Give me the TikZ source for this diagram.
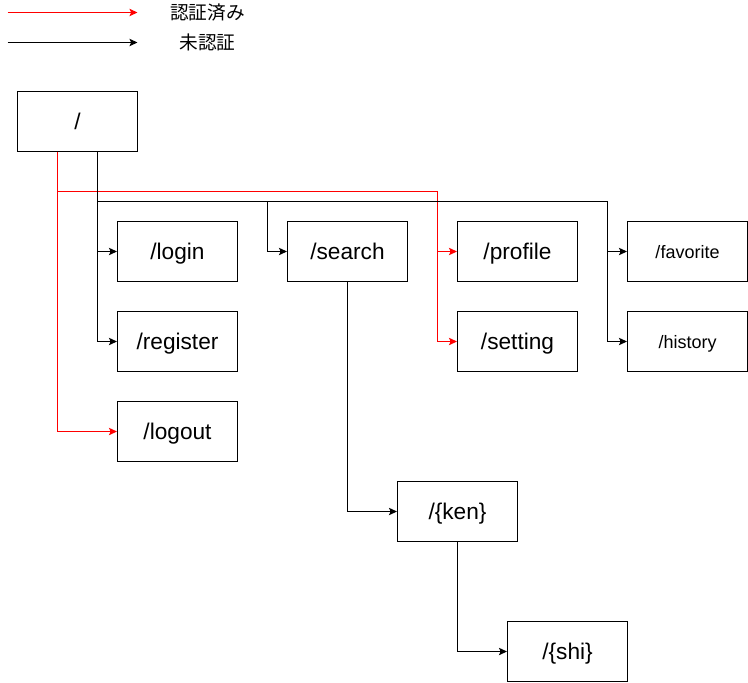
\documentclass[tikz,border=0pt]{standalone}
\usepackage{fontspec}
\setmainfont{Liberation Sans}
\newfontfamily\cjk{Noto Sans CJK JP}
\usetikzlibrary{arrows.meta}
\begin{document}
\begin{tikzpicture}[x=0.75pt,y=-0.75pt,
  pagebox/.style={draw=black,line width=0.8pt,minimum width=90pt,minimum height=45pt,inner sep=0pt,text height=12.4pt,text depth=0pt,font=\fontsize{17}{20}\selectfont},
  smallbox/.style={pagebox,text height=9.9pt,font=\fontsize{13.5}{16}\selectfont},
  tip/.style={-{Stealth[length=6pt,width=5.5pt,inset=1.2pt]}},
  blk/.style={draw=black,line width=0.8pt},
  redl/.style={draw=red,line width=0.9pt},
  legendtext/.style={font=\cjk\fontsize{14}{16}\selectfont,inner sep=0pt}]
\useasboundingbox (0,0) rectangle (748,682);
\begin{scope}[shift={(0.5,0.5)}]
% legend
\coordinate (la) at (7,12);
\coordinate (lb) at (137,12);
\coordinate (lc) at (7,42);
\coordinate (ld) at (137,42);
\draw[redl,tip] (la) -- (lb);
\draw[blk,tip] (lc) -- (ld);
\node[legendtext] (l1) at (207,12) {認証済み};
\node[legendtext] (l2) at (207,42) {未認証};
% nodes
\node[pagebox] (root) at (77,121) {/};
\node[pagebox] (login) at (177,251) {/login};
\node[pagebox] (register) at (177,341) {/register};
\node[pagebox] (logout) at (177,431) {/logout};
\node[pagebox] (search) at (347,251) {/search};
\node[pagebox] (profile) at (517,251) {/profile};
\node[pagebox] (setting) at (517,341) {/setting};
\node[smallbox] (favorite) at (687,251) {/favorite};
\node[smallbox] (history) at (687,341) {/history};
\node[pagebox] (ken) at (457,511) {/\{ken\}};
\node[pagebox] (shi) at (567,651) {/\{shi\}};
% junction coordinates
\coordinate (rA) at (57,151);
\coordinate (rB) at (97,151);
\coordinate (jr) at (437,191);
\coordinate (jb) at (97,201);
\coordinate (js) at (267,201);
\coordinate (jf) at (607,201);
% red connectors
\draw[redl,tip] (rA) |- (logout.west);
\draw[redl] (rA) |- (jr);
\draw[redl,tip] (jr) |- (profile.west);
\draw[redl,tip] (jr) |- (setting.west);
% black connectors
\draw[blk,tip] (rB) |- (register.west);
\draw[blk,tip] (rB) |- (login.west);
\draw[blk] (jb) -- (jf);
\draw[blk,tip] (js) |- (search.west);
\draw[blk,tip] (jf) |- (favorite.west);
\draw[blk,tip] (jf) |- (history.west);
\draw[blk,tip] (search.south) |- (ken.west);
\draw[blk,tip] (ken.south) |- (shi.west);
\end{scope}
\end{tikzpicture}
\end{document}
